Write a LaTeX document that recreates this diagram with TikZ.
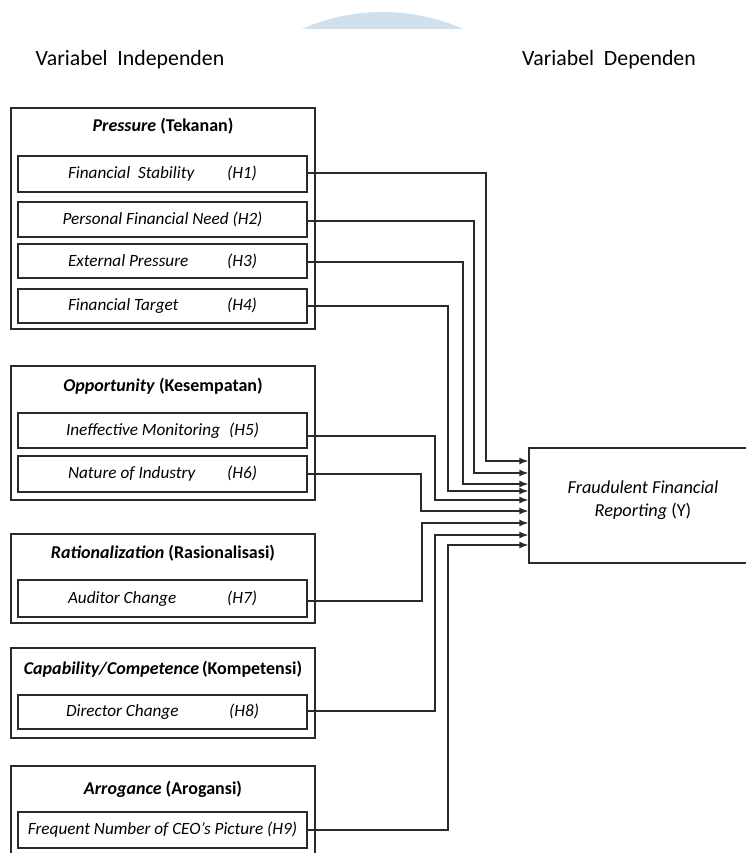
\documentclass[tikz,border=0pt]{standalone}
\usepackage{fontspec}
\setmainfont{Carlito}
\usetikzlibrary{arrows.meta}
\definecolor{lc}{HTML}{2A2A2A}
\definecolor{arcblue}{HTML}{CFE0EE}
\begin{document}
\begin{tikzpicture}[x=1pt,y=-1pt,
  outerbox/.style={draw=lc, line width=1.3pt, rectangle, inner sep=0pt, minimum width=304pt},
  innerbox/.style={draw=lc, line width=1.3pt, rectangle, inner sep=0pt, minimum width=289pt,
     minimum height=35pt, font=\fontsize{17.2}{20}\selectfont\itshape},
  titletext/.style={font=\fontsize{18}{21}\selectfont\bfseries, inner sep=0pt},
  headtext/.style={font=\fontsize{21.8}{25}\selectfont, inner sep=0pt},
  conn/.style={draw=lc, line width=1.3pt, -{Latex[length=9pt,width=7pt]}}]
\clip (0,0) rectangle (746,853);
\useasboundingbox (0,0) rectangle (746,853);
% blue arc at top
\begin{scope}
  \clip (0,0) rectangle (746,29);
  \fill[arcblue] (382.5,211) circle (199);
\end{scope}
% headers
\node[headtext] (hin) at (130,60) {Variabel\ \ Independen};
\node[headtext] (hdep) at (609,60) {Variabel\ \ Dependen};
% outer boxes
\node[outerbox, minimum height=221pt] (pres) at (163,218.5) {};
\node[outerbox, minimum height=134pt] (opp) at (163,433) {};
\node[outerbox, minimum height=89pt] (rat) at (163,578.5) {};
\node[outerbox, minimum height=90pt] (cap) at (163,693) {};
\node[outerbox, minimum height=120pt] (arr) at (163,826) {};
% titles
\node[titletext] (tpres) at (163,126) {\textit{Pressure} (Tekanan)};
\node[titletext] (topp) at (163,386) {\textit{Opportunity} (Kesempatan)};
\node[titletext] (trat) at (163,553) {\textit{Rationalization} (Rasionalisasi)};
\node[titletext] (tcap) at (163,669) {\textit{Capability/Competence}\,(Kompetensi)};
\node[titletext] (tarr) at (163,789) {\textit{Arrogance} (Arogansi)};
% inner boxes
\node[innerbox, minimum height=36pt] (h1) at (162.5,174) {\makebox[189pt]{Financial\ \ Stability\hfill(H1)}};
\node[innerbox] (h2) at (162.5,219.5) {Personal Financial Need (H2)};
\node[innerbox, minimum height=34pt] (h3) at (162.5,261) {\makebox[189pt]{External Pressure\hfill(H3)}};
\node[innerbox, minimum height=34pt] (h4) at (162.5,306) {\makebox[189pt]{Financial Target\hfill(H4)}};
\node[innerbox] (h5) at (162.5,430.5) {\makebox[193pt]{Ineffective Monitoring\hfill(H5)}};
\node[innerbox, minimum height=36pt] (h6) at (162.5,474) {\makebox[189pt]{Nature of Industry\hfill(H6)}};
\node[innerbox, minimum height=37pt] (h7) at (162.5,598.5) {\makebox[189pt]{Auditor Change\hfill(H7)}};
\node[innerbox, minimum height=34pt] (h8) at (162.5,712) {\makebox[193pt]{Director Change\hfill(H8)}};
\node[innerbox, minimum height=36pt] (h9) at (162.5,830) {Frequent Number of CEO's Picture (H9)};
% dependent box
\node[draw=lc, line width=1.3pt, rectangle, inner sep=0pt, minimum width=232pt, minimum height=115pt] (Y) at (645,505.5) {};
\node[font=\fontsize{18.3}{23}\selectfont\itshape, align=center, inner sep=0pt] (ylab) at (643,500.5)
  {Fraudulent Financial\\Reporting {\upshape(Y)}};
% connectors
\foreach \n/\sy/\tx/\ay in {1/173/486/461, 2/221/474/473, 3/262/463/484, 4/306/448/491,
    5/436/435/500, 6/474/421/511, 7/601/422/523, 8/711/435/535, 9/830/448/545} {
  \coordinate (s) at (0,\sy);
  \coordinate (a) at (0,\ay);
  \draw[conn] (h\n.east |- s) -| (\tx,\ay) -- (Y.west |- a);
}
\end{tikzpicture}
\end{document}
